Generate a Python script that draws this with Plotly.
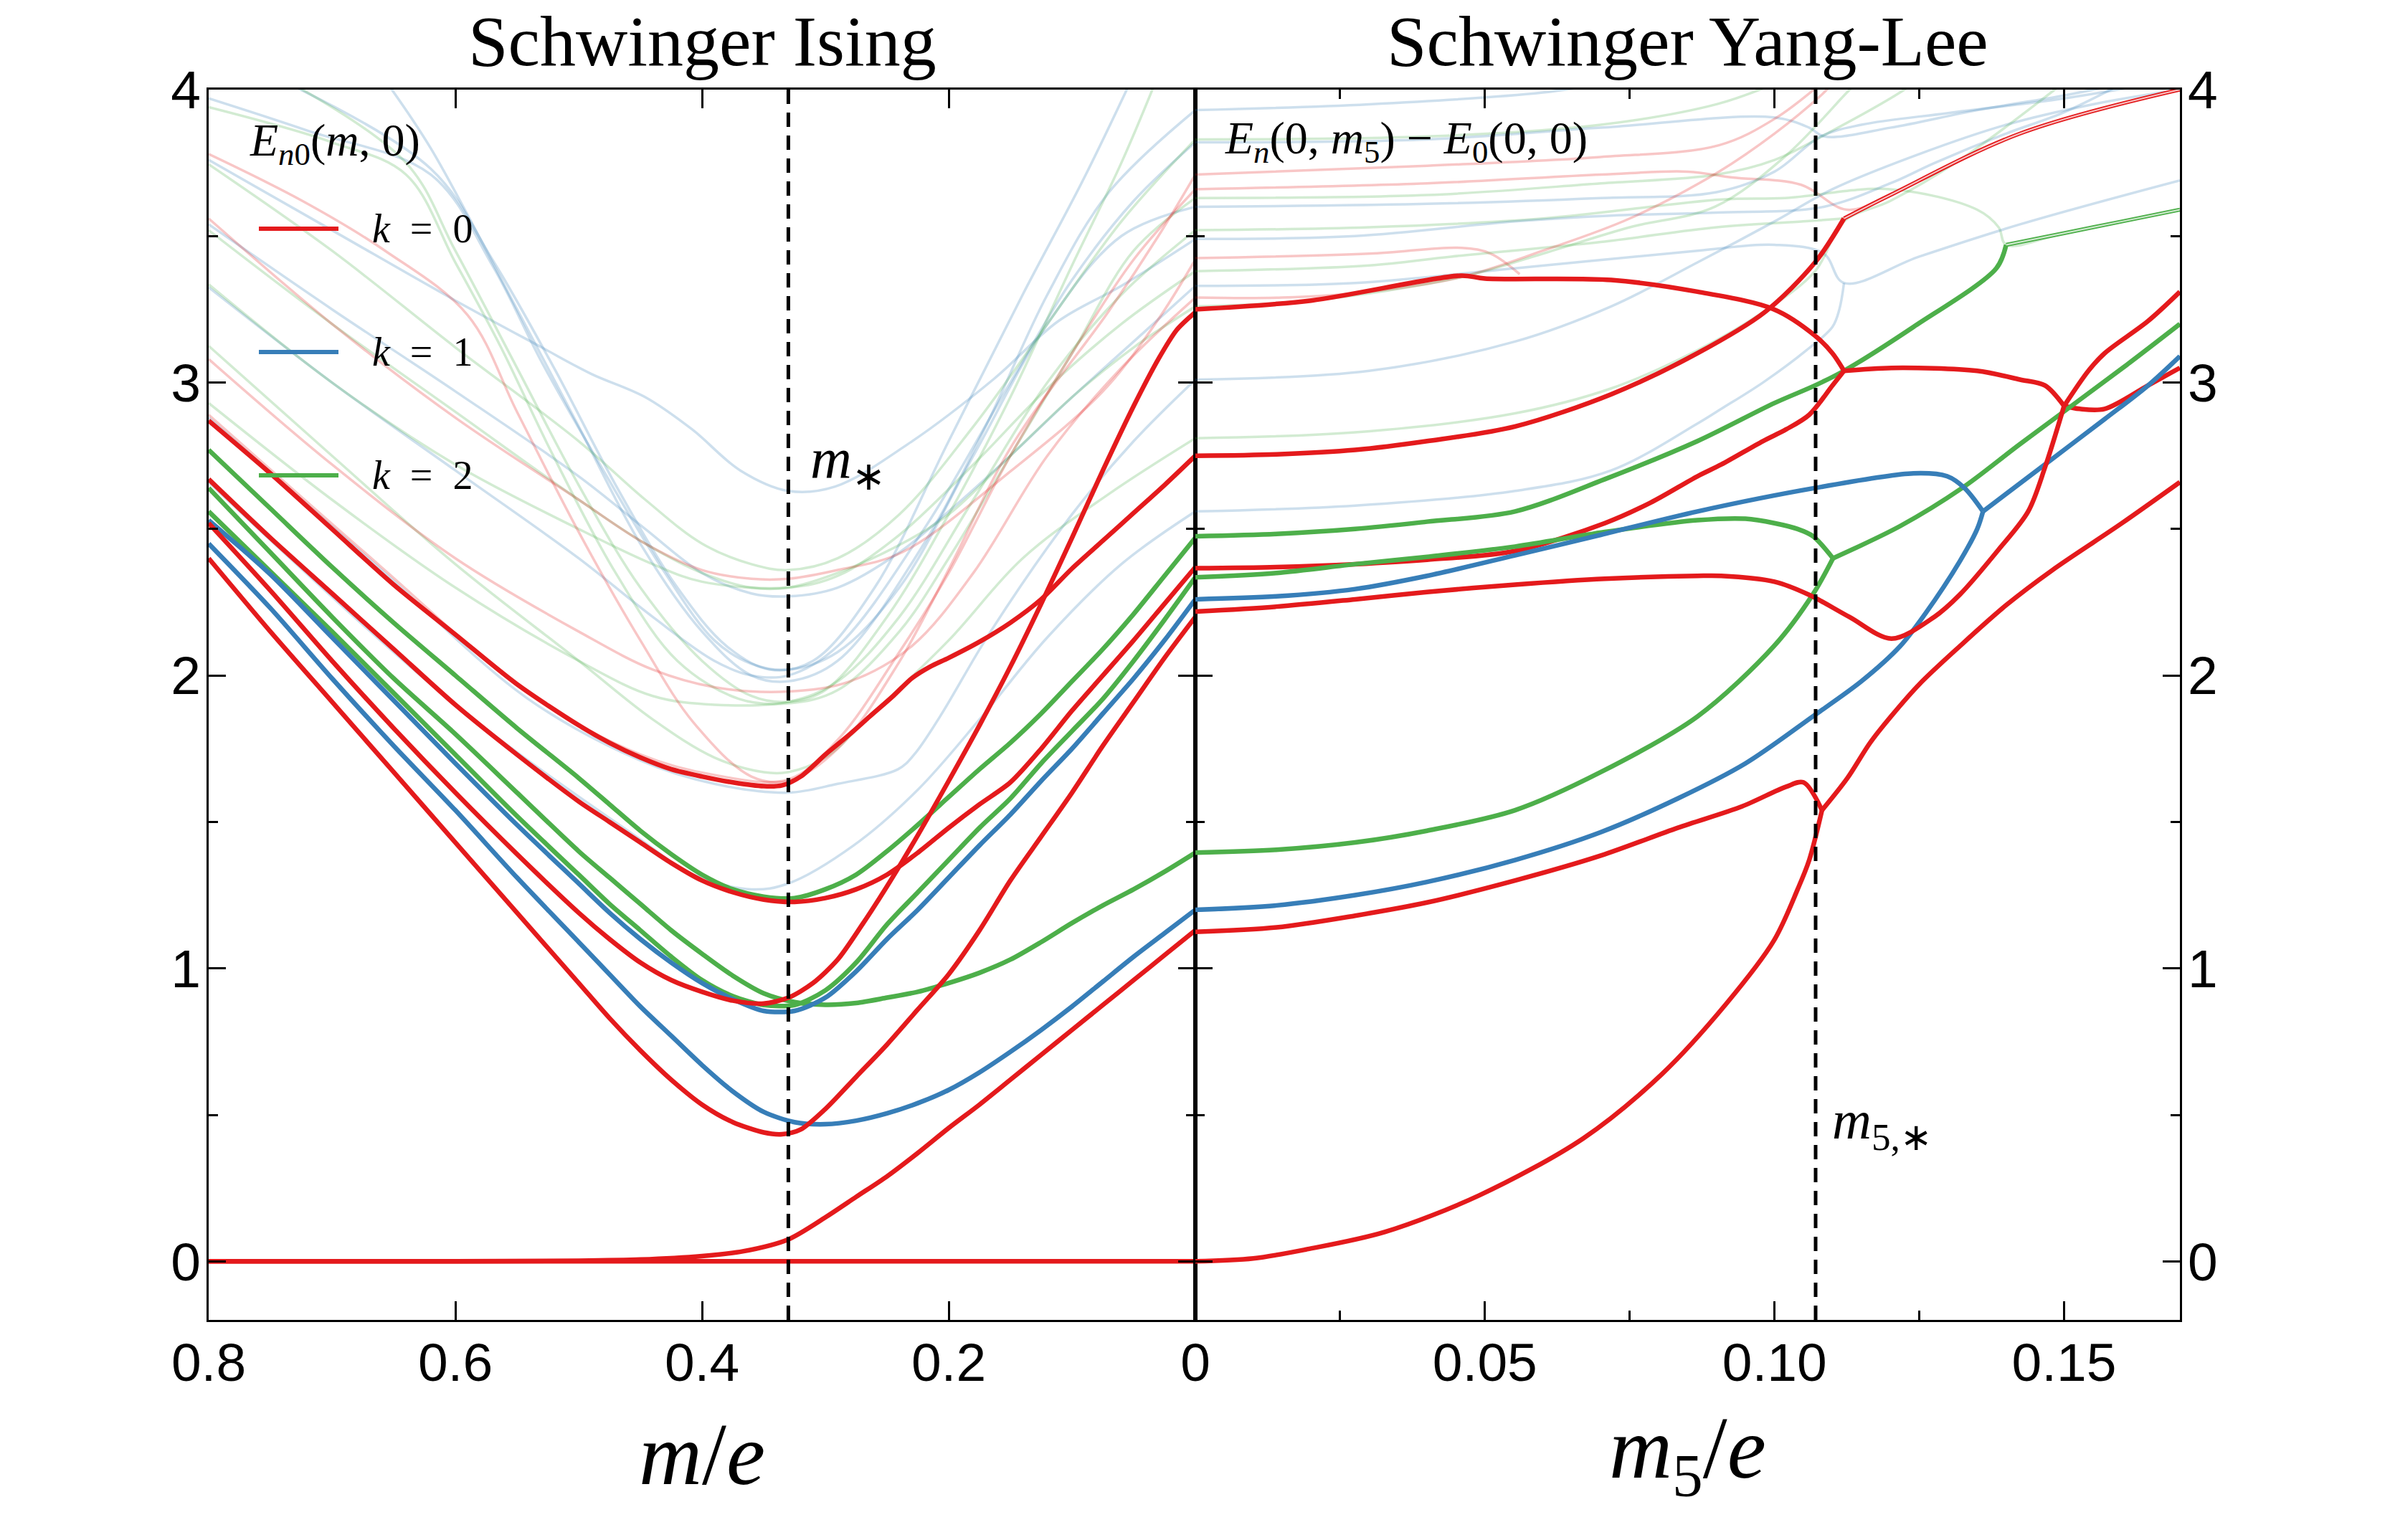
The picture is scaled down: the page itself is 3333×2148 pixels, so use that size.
import plotly.graph_objects as go

# ------------------------------------------------------------------
# DATA
# Left panel: x = m/e (axis reversed, 0.8 -> 0), Right panel: x = m5/e
# ------------------------------------------------------------------
m_star = 0.33
m5_star = 0.1071

# ---- Schwinger Ising: bold levels ----
ising_ground = [(0.8, 0.0), (0.0, 0.0)]
ising_red_rise = [(0.8, 0.0), (0.6, 0.0), (0.5, 0.002), (0.45, 0.006), (0.4, 0.018), (0.367, 0.034),
                  (0.33, 0.075), (0.3, 0.15), (0.275, 0.22), (0.25, 0.29), (0.225, 0.37), (0.2, 0.455),
                  (0.175, 0.535), (0.15, 0.62), (0.125, 0.705), (0.1, 0.79), (0.075, 0.875), (0.05, 0.96),
                  (0.025, 1.045), (0.0, 1.13)]
ising_red_a = [(0.8, 2.40), (0.75, 2.15), (0.7, 1.91), (0.65, 1.67), (0.6, 1.43), (0.55, 1.19), (0.5, 0.95),
               (0.475, 0.83), (0.45, 0.72), (0.425, 0.62), (0.4, 0.535), (0.375, 0.475), (0.35, 0.44),
               (0.335, 0.434), (0.32, 0.45), (0.3, 0.52), (0.275, 0.63), (0.25, 0.74), (0.225, 0.86),
               (0.2, 0.98), (0.175, 1.13), (0.15, 1.30), (0.125, 1.45), (0.1, 1.60), (0.075, 1.76),
               (0.05, 1.91), (0.025, 2.06), (0.0, 2.20)]
ising_blue_a = [(0.8, 2.45), (0.75, 2.23), (0.7, 1.99), (0.65, 1.76), (0.6, 1.54), (0.55, 1.31), (0.5, 1.09),
                (0.475, 0.98), (0.45, 0.87), (0.425, 0.77), (0.4, 0.67), (0.375, 0.58), (0.35, 0.51),
                (0.325, 0.475), (0.3, 0.468), (0.275, 0.48), (0.25, 0.505), (0.225, 0.54), (0.2, 0.585),
                (0.175, 0.645), (0.15, 0.715), (0.125, 0.79), (0.1, 0.87), (0.075, 0.955), (0.05, 1.04),
                (0.025, 1.12), (0.0, 1.20)]
ising_red_b = [(0.8, 2.52), (0.75, 2.29), (0.7, 2.05), (0.65, 1.82), (0.6, 1.60), (0.55, 1.39), (0.5, 1.19),
               (0.475, 1.10), (0.45, 1.02), (0.425, 0.96), (0.4, 0.92), (0.375, 0.89), (0.35, 0.88),
               (0.33, 0.90), (0.31, 0.95), (0.29, 1.03), (0.27, 1.15), (0.25, 1.28), (0.225, 1.455),
               (0.2, 1.64), (0.175, 1.83), (0.15, 2.03), (0.125, 2.245), (0.1, 2.47), (0.075, 2.70),
               (0.05, 2.92), (0.03, 3.08), (0.015, 3.18), (0.0, 3.24)]
ising_blue_b = [(0.8, 2.53), (0.75, 2.345), (0.7, 2.13), (0.65, 1.915), (0.6, 1.70), (0.55, 1.49), (0.5, 1.29),
                (0.475, 1.19), (0.45, 1.10), (0.425, 1.02), (0.4, 0.95), (0.375, 0.895), (0.35, 0.855),
                (0.325, 0.855), (0.3, 0.90), (0.275, 0.99), (0.25, 1.10), (0.225, 1.20), (0.2, 1.31),
                (0.175, 1.42), (0.15, 1.525), (0.125, 1.64), (0.1, 1.75), (0.075, 1.87), (0.05, 1.99),
                (0.025, 2.12), (0.0, 2.26)]
ising_green_lo = [(0.8, 2.64), (0.75, 2.42), (0.7, 2.20), (0.65, 1.99), (0.6, 1.80), (0.55, 1.60), (0.5, 1.40),
                  (0.475, 1.31), (0.45, 1.22), (0.425, 1.13), (0.4, 1.05), (0.375, 0.975), (0.35, 0.915),
                  (0.325, 0.885), (0.3, 0.876), (0.275, 0.882), (0.25, 0.90), (0.225, 0.92), (0.2, 0.95),
                  (0.175, 0.985), (0.15, 1.03), (0.125, 1.09), (0.1, 1.155), (0.075, 1.215), (0.05, 1.27),
                  (0.025, 1.33), (0.0, 1.395)]
ising_green_mid = [(0.8, 2.56), (0.75, 2.355), (0.7, 2.15), (0.65, 1.94), (0.6, 1.73), (0.55, 1.52), (0.5, 1.32),
                   (0.475, 1.22), (0.45, 1.13), (0.425, 1.04), (0.4, 0.96), (0.375, 0.905), (0.35, 0.875),
                   (0.325, 0.875), (0.3, 0.925), (0.275, 1.02), (0.25, 1.15), (0.225, 1.26), (0.2, 1.37),
                   (0.175, 1.48), (0.15, 1.58), (0.125, 1.70), (0.1, 1.81), (0.075, 1.92), (0.05, 2.05),
                   (0.025, 2.19), (0.0, 2.335)]
ising_red_c = [(0.8, 2.67), (0.75, 2.47), (0.7, 2.28), (0.65, 2.09), (0.6, 1.90), (0.55, 1.73), (0.5, 1.57),
               (0.475, 1.50), (0.45, 1.43), (0.425, 1.36), (0.4, 1.30), (0.375, 1.26), (0.35, 1.235),
               (0.325, 1.227), (0.3, 1.24), (0.275, 1.27), (0.25, 1.32), (0.225, 1.395), (0.2, 1.48),
               (0.175, 1.56), (0.15, 1.635), (0.125, 1.75), (0.1, 1.88), (0.075, 2.00), (0.05, 2.12),
               (0.025, 2.245), (0.0, 2.37)]
ising_green_c = [(0.8, 2.77), (0.75, 2.57), (0.7, 2.37), (0.65, 2.18), (0.6, 2.0), (0.55, 1.82), (0.5, 1.65),
                 (0.475, 1.56), (0.45, 1.47), (0.425, 1.39), (0.4, 1.32), (0.375, 1.27), (0.35, 1.245),
                 (0.325, 1.24), (0.3, 1.27), (0.275, 1.32), (0.25, 1.40), (0.225, 1.49), (0.2, 1.585),
                 (0.175, 1.68), (0.15, 1.77), (0.125, 1.87), (0.1, 1.98), (0.075, 2.09), (0.05, 2.21),
                 (0.025, 2.34), (0.0, 2.47)]
ising_red_d = [(0.8, 2.87), (0.75, 2.69), (0.7, 2.50), (0.65, 2.31), (0.6, 2.14), (0.55, 1.97), (0.5, 1.83),
               (0.475, 1.77), (0.45, 1.72), (0.425, 1.68), (0.4, 1.655), (0.375, 1.635), (0.35, 1.622),
               (0.335, 1.625), (0.32, 1.655), (0.3, 1.73), (0.28, 1.80), (0.264, 1.86), (0.245, 1.93),
               (0.23, 1.99), (0.215, 2.03), (0.2, 2.06), (0.175, 2.115), (0.15, 2.18), (0.125, 2.26),
               (0.1, 2.365), (0.075, 2.46), (0.05, 2.555), (0.025, 2.65), (0.0, 2.75)]

# ---- Schwinger Ising: faded (higher) levels ----
ising_fb1 = [(0.8, 3.76), (0.7, 3.52), (0.6, 3.28), (0.53, 3.12), (0.49, 3.03), (0.446, 2.95), (0.408, 2.84),
             (0.369, 2.70), (0.33, 2.63), (0.292, 2.645), (0.233, 2.79), (0.164, 3.01), (0.111, 3.21),
             (0.06, 3.33), (0.0, 3.49)]
ising_fb2 = [(0.8, 3.54), (0.7, 3.25), (0.6, 2.97), (0.5, 2.68), (0.446, 2.50), (0.40, 2.35), (0.36, 2.28),
             (0.33, 2.27), (0.29, 2.30), (0.24, 2.42), (0.2, 2.56), (0.15, 2.75), (0.1, 2.95), (0.05, 3.14),
             (0.0, 3.33)]
ising_fb3 = [(0.8, 3.97), (0.72, 3.86), (0.62, 3.71), (0.57, 3.40), (0.53, 3.07), (0.48, 2.70), (0.43, 2.35),
             (0.39, 2.12), (0.36, 2.04), (0.33, 2.02), (0.29, 2.08), (0.24, 2.3), (0.18, 2.75), (0.12, 3.2),
             (0.06, 3.5), (0.0, 3.60)]
ising_fb4 = [(0.8, 3.325), (0.7, 3.0), (0.6, 2.7), (0.5, 2.4), (0.44, 2.2), (0.39, 2.05), (0.36, 2.0),
             (0.33, 2.0), (0.29, 2.1), (0.22, 2.5), (0.15, 3.0), (0.1, 3.35), (0.05, 3.62), (0.0, 3.82)]
ising_fb5 = [(0.66, 4.05), (0.62, 3.8), (0.55, 3.25), (0.5, 2.85), (0.45, 2.45), (0.40, 2.15), (0.36, 2.0),
             (0.33, 1.98), (0.29, 2.05), (0.22, 2.45), (0.17, 2.85), (0.12, 3.3), (0.07, 3.65), (0.0, 3.93)]
ising_fb6 = [(0.8, 2.88), (0.66, 2.36), (0.541, 1.92), (0.45, 1.71), (0.39, 1.63), (0.33, 1.60), (0.29, 1.63),
             (0.241, 1.68), (0.228, 1.73), (0.207, 1.86), (0.166, 2.15), (0.1, 2.55), (0.05, 2.8), (0.0, 3.01)]
ising_fb7 = [(0.8, 2.66), (0.6, 1.90), (0.45, 1.44), (0.407, 1.32), (0.36, 1.27), (0.33, 1.29), (0.277, 1.42),
             (0.225, 1.61), (0.173, 1.86), (0.12, 2.13), (0.06, 2.38), (0.0, 2.56)]
ising_fb8 = [(0.75, 4.05), (0.62, 3.73), (0.57, 3.42), (0.52, 3.05), (0.47, 2.65), (0.42, 2.3), (0.38, 2.1),
             (0.345, 2.02), (0.31, 2.05), (0.26, 2.3), (0.2, 2.8), (0.14, 3.3), (0.09, 3.7), (0.05, 4.05)]
ising_fg1 = [(0.8, 3.94), (0.7, 3.82), (0.64, 3.71), (0.6, 3.41), (0.563, 3.12), (0.523, 2.77), (0.47, 2.35),
             (0.42, 2.05), (0.37, 1.92), (0.33, 1.905), (0.29, 1.95), (0.24, 2.15), (0.2, 2.4), (0.15, 2.75),
             (0.1, 3.1), (0.05, 3.45), (0.0, 3.63)]
ising_fg2 = [(0.8, 3.745), (0.7, 3.45), (0.6, 3.12), (0.5, 2.80), (0.446, 2.6), (0.4, 2.45), (0.36, 2.38),
             (0.33, 2.36), (0.29, 2.40), (0.24, 2.55), (0.18, 2.85), (0.12, 3.2), (0.06, 3.55), (0.0, 3.83)]
ising_fg3 = [(0.8, 3.52), (0.7, 3.2), (0.6, 2.9), (0.5, 2.6), (0.446, 2.45), (0.4, 2.35), (0.36, 2.30),
             (0.33, 2.30), (0.29, 2.35), (0.238, 2.45), (0.2, 2.55), (0.15, 2.75), (0.1, 2.95), (0.05, 3.12),
             (0.0, 3.26)]
ising_fg4 = [(0.8, 3.125), (0.7, 2.75), (0.6, 2.38), (0.5, 2.05), (0.44, 1.85), (0.39, 1.72), (0.35, 1.67),
             (0.33, 1.67), (0.30, 1.72), (0.264, 1.86), (0.2, 2.12), (0.14, 2.4), (0.07, 2.62), (0.0, 2.81)]
ising_fg5 = [(0.8, 3.335), (0.7, 3.0), (0.6, 2.72), (0.5, 2.5), (0.44, 2.38), (0.4, 2.32), (0.33, 2.30),
             (0.29, 2.34), (0.24, 2.48), (0.18, 2.72), (0.12, 2.98), (0.06, 3.2), (0.0, 3.38)]
ising_fg6 = [(0.8, 2.93), (0.7, 2.6), (0.6, 2.3), (0.5, 2.05), (0.44, 1.93), (0.39, 1.9), (0.33, 1.91),
             (0.29, 1.98), (0.24, 2.2), (0.18, 2.6), (0.12, 3.0), (0.06, 3.3), (0.0, 3.52)]
ising_fg7 = [(0.745, 4.05), (0.64, 3.75), (0.6, 3.45), (0.55, 3.05), (0.5, 2.65), (0.45, 2.3), (0.4, 2.05),
             (0.36, 1.93), (0.33, 1.91), (0.3, 1.95), (0.25, 2.2), (0.2, 2.55), (0.15, 2.95), (0.1, 3.4),
             (0.06, 3.75), (0.03, 4.05)]
ising_fr1 = [(0.8, 3.78), (0.724, 3.62), (0.657, 3.45), (0.59, 3.23), (0.55, 2.90), (0.50, 2.49), (0.45, 2.12),
             (0.407, 1.84), (0.36, 1.655), (0.33, 1.64), (0.29, 1.75), (0.241, 2.04), (0.199, 2.37),
             (0.148, 2.79), (0.07, 3.245), (0.03, 3.50), (0.0, 3.71)]
ising_fr2 = [(0.8, 3.56), (0.7, 3.2), (0.6, 2.88), (0.5, 2.6), (0.446, 2.45), (0.4, 2.36), (0.36, 2.33),
             (0.33, 2.33), (0.29, 2.36), (0.238, 2.42), (0.149, 2.70), (0.075, 2.97), (0.031, 3.21), (0.0, 3.42)]
ising_fr3 = [(0.8, 3.08), (0.7, 2.72), (0.6, 2.4), (0.5, 2.15), (0.44, 2.02), (0.39, 1.96), (0.33, 1.945),
             (0.28, 1.98), (0.23, 2.1), (0.18, 2.35), (0.12, 2.75), (0.06, 3.05), (0.0, 3.29)]
ising_fr4 = [(0.8, 2.89), (0.66, 2.37), (0.541, 1.94), (0.45, 1.73), (0.39, 1.66), (0.33, 1.645), (0.29, 1.78),
             (0.24, 2.08), (0.2, 2.35), (0.15, 2.75), (0.1, 3.1), (0.05, 3.42), (0.0, 3.66)]

# ---- Schwinger Yang-Lee: bold levels ----
yl_red_lo = [(0.0, 0.0), (0.01, 0.01), (0.019, 0.04), (0.0327, 0.10), (0.049, 0.225), (0.067, 0.42),
             (0.0806, 0.64), (0.0917, 0.88), (0.0999, 1.095), (0.104, 1.27), (0.106, 1.37), (0.1082, 1.54)]
yl_red_1 = [(0.0, 1.125), (0.014, 1.14), (0.0276, 1.18), (0.04, 1.225), (0.0552, 1.30), (0.07, 1.385),
            (0.0833, 1.48), (0.0944, 1.553), (0.102, 1.62), (0.105, 1.635), (0.1082, 1.54)]
yl_red_merged = [(0.1082, 1.54), (0.1126, 1.65), (0.1165, 1.77), (0.1201, 1.86), (0.125, 1.97), (0.132, 2.10),
                 (0.14, 2.24), (0.148, 2.36), (0.16, 2.52), (0.17, 2.66)]
yl_blue_1 = [(0.0, 1.20), (0.014, 1.215), (0.0276, 1.25), (0.04, 1.295), (0.0552, 1.37), (0.07, 1.465),
             (0.0833, 1.58), (0.095, 1.70), (0.1066, 1.86), (0.115, 1.98), (0.1217, 2.10), (0.126, 2.21),
             (0.132, 2.39), (0.135, 2.50), (0.136, 2.56)]
yl_blue_2 = [(0.0, 2.26), (0.014, 2.27), (0.0276, 2.295), (0.04, 2.34), (0.0552, 2.41), (0.07, 2.48),
             (0.0867, 2.56), (0.107, 2.64), (0.124, 2.69), (0.1298, 2.68), (0.1328, 2.64), (0.136, 2.56)]
yl_blue_merged = [(0.136, 2.56), (0.148, 2.74), (0.157, 2.875), (0.1645, 2.99), (0.17, 3.09)]
yl_green_1 = [(0.0, 1.395), (0.014, 1.405), (0.0276, 1.43), (0.04, 1.47), (0.0552, 1.54), (0.07, 1.67),
              (0.0867, 1.86), (0.0999, 2.10), (0.1066, 2.276), (0.1101, 2.40)]
yl_green_2 = [(0.0, 2.335), (0.014, 2.35), (0.0276, 2.38), (0.04, 2.405), (0.0552, 2.44), (0.0707, 2.49),
              (0.0867, 2.53), (0.095, 2.535), (0.1, 2.52), (0.104, 2.50), (0.1066, 2.476), (0.1101, 2.40)]
yl_green_merged = [(0.1101, 2.40), (0.1217, 2.51), (0.1324, 2.64), (0.1424, 2.79), (0.1608, 3.06), (0.17, 3.20)]
yl_green_3 = [(0.0, 2.475), (0.014, 2.483), (0.0276, 2.50), (0.04, 2.525), (0.0552, 2.56), (0.0707, 2.67),
              (0.0867, 2.80), (0.1, 2.93), (0.107, 2.99), (0.112, 3.04), (0.124, 3.19), (0.1383, 3.39),
              (0.140, 3.47)]
yl_green_3_pair = [(0.140, 3.47), (0.15, 3.51), (0.16, 3.55), (0.17, 3.59)]
yl_red_2 = [(0.0, 2.218), (0.014, 2.235), (0.0276, 2.26), (0.04, 2.285), (0.0552, 2.31), (0.0707, 2.33),
            (0.0867, 2.34), (0.0908, 2.34), (0.1, 2.32), (0.106, 2.275), (0.1129, 2.20), (0.1202, 2.126),
            (0.1276, 2.20), (0.132, 2.276), (0.1387, 2.43), (0.1438, 2.56), (0.1467, 2.71), (0.150, 2.92)]
yl_red_upper_branch = [(0.150, 2.92), (0.1542, 3.04), (0.157, 3.10), (0.1645, 3.21), (0.17, 3.31)]
yl_red_237 = [(0.0, 2.366), (0.014, 2.37), (0.0276, 2.38), (0.04, 2.395), (0.0552, 2.425), (0.0707, 2.52),
              (0.0786, 2.59), (0.0867, 2.68), (0.0908, 2.72), (0.098, 2.80), (0.102, 2.84), (0.106, 2.89),
              (0.110, 2.99), (0.112, 3.04)]
yl_red_top = [(0.0, 3.25), (0.02, 3.28), (0.0459, 3.365), (0.05, 3.355), (0.0718, 3.35), (0.0867, 3.31),
              (0.0999, 3.25), (0.107, 3.16), (0.110, 3.10), (0.112, 3.04)]
yl_red_plateau = [(0.112, 3.04), (0.1202, 3.05), (0.135, 3.04), (0.1424, 3.01), (0.1467, 2.99), (0.150, 2.92)]
yl_red_lower_branch = [(0.150, 2.92), (0.1527, 2.91), (0.157, 2.91), (0.1645, 2.99), (0.17, 3.05)]
yl_red_275 = [(0.0, 2.75), (0.014, 2.755), (0.0276, 2.77), (0.04, 2.80), (0.0552, 2.85), (0.0718, 2.96),
              (0.0867, 3.10), (0.0983, 3.24), (0.107, 3.41), (0.112, 3.56)]
yl_red_275_pair = [(0.112, 3.56), (0.120, 3.64), (0.1424, 3.85), (0.17, 4.0)]

# ---- Schwinger Yang-Lee: faded levels ----
yl_fb1 = [(0.0, 3.93), (0.03, 3.95), (0.06, 3.99), (0.07, 4.02)]
yl_fg1 = [(0.0, 3.83), (0.04, 3.84), (0.07, 3.88), (0.09, 3.95), (0.1, 4.02)]
yl_fb2 = [(0.0, 3.82), (0.04, 3.83), (0.07, 3.87), (0.0999, 3.905), (0.106, 3.87), (0.1086, 3.84), (0.12, 3.87),
          (0.135, 3.93), (0.15, 3.98), (0.16, 4.02)]
yl_fr1 = [(0.0, 3.71), (0.04, 3.74), (0.07, 3.77), (0.0904, 3.81), (0.1, 3.90), (0.108, 4.02)]
yl_fr2 = [(0.0, 3.66), (0.04, 3.68), (0.07, 3.71), (0.085, 3.72), (0.0927, 3.70), (0.1046, 3.675),
          (0.1125, 3.59), (0.12, 3.64), (0.1424, 3.85), (0.17, 4.0)]
yl_fg2 = [(0.0, 3.63), (0.04, 3.64), (0.07, 3.68), (0.09, 3.71), (0.1, 3.76), (0.11, 3.86), (0.12, 3.97),
          (0.124, 4.02)]
yl_fb3 = [(0.0, 3.60), (0.04, 3.61), (0.07, 3.63), (0.09, 3.65), (0.1, 3.72), (0.108, 3.84), (0.115, 3.88),
          (0.13, 3.92), (0.15, 3.97), (0.165, 4.02)]
yl_fg3 = [(0.0, 3.52), (0.03, 3.53), (0.06, 3.56), (0.0908, 3.625), (0.1018, 3.63), (0.12, 3.66), (0.135, 3.59),
          (0.1387, 3.53), (0.140, 3.47), (0.15, 3.51), (0.16, 3.55), (0.17, 3.59)]
yl_fb4 = [(0.0, 3.49), (0.0276, 3.50), (0.0552, 3.55), (0.0718, 3.57), (0.09, 3.58), (0.1085, 3.60),
          (0.12, 3.68), (0.1277, 3.75), (0.14, 3.85), (0.1497, 3.92), (0.16, 4.02)]
yl_fr3 = [(0.0, 3.425), (0.03, 3.44), (0.046, 3.46), (0.051, 3.44), (0.056, 3.37)]
yl_fg4 = [(0.0, 3.38), (0.03, 3.40), (0.0442, 3.43), (0.07, 3.48), (0.09, 3.53), (0.105, 3.55), (0.112, 3.56)]
yl_fb5 = [(0.0, 3.33), (0.0276, 3.34), (0.0552, 3.39), (0.0867, 3.45), (0.1, 3.47), (0.1085, 3.44),
          (0.112, 3.34), (0.125, 3.43), (0.1424, 3.54), (0.17, 3.69)]
yl_fr4 = [(0.0, 3.29), (0.015, 3.29), (0.03, 3.31), (0.0459, 3.36), (0.06, 3.45), (0.075, 3.56), (0.0904, 3.72),
          (0.1, 3.85), (0.108, 3.98), (0.11, 4.02)]
yl_fg5 = [(0.0, 3.26), (0.02, 3.28), (0.0459, 3.36), (0.06, 3.44), (0.075, 3.53), (0.0897, 3.60),
          (0.102, 3.775), (0.1125, 3.99), (0.114, 4.02)]
yl_fb6 = [(0.0, 3.01), (0.03, 3.04), (0.0552, 3.14), (0.0718, 3.26), (0.0867, 3.41), (0.1, 3.55), (0.11, 3.66),
          (0.125, 3.78), (0.14, 3.88), (0.155, 3.95), (0.17, 4.0)]
yl_fg6 = [(0.0, 2.81), (0.0276, 2.83), (0.0552, 2.895), (0.0718, 2.98), (0.0867, 3.11), (0.098, 3.24),
          (0.107, 3.38), (0.112, 3.55), (0.12, 3.62), (0.132, 3.76), (0.1497, 4.02)]
yl_fb7 = [(0.0, 2.56), (0.0276, 2.58), (0.0552, 2.63), (0.0718, 2.70), (0.0867, 2.86), (0.0908, 2.91),
          (0.098, 3.0), (0.1055, 3.11), (0.110, 3.19), (0.1112, 3.25), (0.112, 3.34)]

# tick labels
left_xticks = [0.8, 0.6, 0.4, 0.2, 0.0]
left_xticklabels = ["0.8", "0.6", "0.4", "0.2", " "]
right_xticks = [0.0, 0.05, 0.10, 0.15]
right_xticklabels = ["0", "0.05", "0.10", "0.15"]
right_xminor = [0.025, 0.075, 0.125]
yticks = [0, 1, 2, 3, 4]
yticklabels = ["0", "1", "2", "3", "4"]
yminor = [0.5, 1.5, 2.5, 3.5]

# ------------------------------------------------------------------
RED, BLUE, GREEN = "#e41a1c", "#377eb8", "#4daf4a"
FADED = {RED: "rgba(228,26,28,0.25)", BLUE: "rgba(55,126,184,0.25)", GREEN: "rgba(77,175,74,0.25)"}

ising_faded = [(ising_fb1, BLUE), (ising_fb2, BLUE), (ising_fb3, BLUE), (ising_fb4, BLUE), (ising_fb5, BLUE),
               (ising_fb6, BLUE), (ising_fb7, BLUE), (ising_fb8, BLUE),
               (ising_fg1, GREEN), (ising_fg2, GREEN), (ising_fg3, GREEN), (ising_fg4, GREEN),
               (ising_fg5, GREEN), (ising_fg6, GREEN), (ising_fg7, GREEN),
               (ising_fr1, RED), (ising_fr2, RED), (ising_fr3, RED), (ising_fr4, RED)]
ising_bold = [(ising_ground, RED), (ising_red_rise, RED), (ising_red_d, RED), (ising_green_c, GREEN),
              (ising_red_c, RED), (ising_green_lo, GREEN), (ising_green_mid, GREEN), (ising_blue_b, BLUE),
              (ising_red_b, RED), (ising_blue_a, BLUE), (ising_red_a, RED)]
yl_faded = [(yl_fb1, BLUE), (yl_fg1, GREEN), (yl_fb2, BLUE), (yl_fr1, RED), (yl_fr2, RED), (yl_fg2, GREEN),
            (yl_fb3, BLUE), (yl_fg3, GREEN), (yl_fb4, BLUE), (yl_fr3, RED), (yl_fg4, GREEN), (yl_fb5, BLUE),
            (yl_fr4, RED), (yl_fg5, GREEN), (yl_fb6, BLUE), (yl_fg6, GREEN), (yl_fb7, BLUE)]
yl_bold = [(yl_green_3, GREEN), (yl_red_top, RED), (yl_red_275, RED), (yl_red_plateau, RED),
           (yl_red_lower_branch, RED), (yl_red_upper_branch, RED), (yl_red_237, RED),
           (yl_green_2, GREEN), (yl_green_1, GREEN), (yl_green_merged, GREEN),
           (yl_blue_2, BLUE), (yl_blue_1, BLUE), (yl_blue_merged, BLUE), (yl_red_2, RED),
           (yl_red_1, RED), (yl_red_lo, RED), (yl_red_merged, RED)]
yl_thin_pairs = [(yl_green_3_pair, GREEN), (yl_red_275_pair, RED)]

fig = go.Figure()


def add(curve, color, width, axis, smoothing=1.0):
    fig.add_trace(go.Scatter(
        x=[p[0] for p in curve], y=[p[1] for p in curve], mode="lines",
        line=dict(color=color, width=width, shape="spline", smoothing=smoothing),
        xaxis="x" if axis == 1 else "x2", yaxis="y" if axis == 1 else "y2",
        showlegend=False, hoverinfo="skip"))


for c, col in ising_faded:
    add(c, FADED[col], 3.5, 1)
for c, col in yl_faded:
    add(c, FADED[col], 3.5, 2)
for c, col in ising_bold:
    add(c, col, 6.5, 1, 0.8)
for c, col in yl_bold:
    add(c, col, 6.5, 2, 0.9)
for c, col in yl_thin_pairs:
    add(c, col, 5.5, 2)
    add(c, "rgba(255,255,255,0.75)", 2, 2)

# ------------------------------------------------------------------
W, H = 3333, 2148
ML, MR, MT, MB = 291, 293, 125, 307
PW, PH = W - ML - MR, H - MT - MB
split = (1667 - ML) / PW


def px(X):
    return (X - ML) / PW


def py(Y):
    return (H - MB - Y) / PH


tickfont = dict(family="Liberation Sans, Arial, sans-serif", size=75, color="black")
common = dict(showline=True, linecolor="black", linewidth=3, mirror="ticks", ticks="inside",
              tickcolor="black", tickwidth=3, showgrid=False, zeroline=False, tickfont=tickfont,
              tickmode="array")
minor_y = dict(tickmode="array", tickvals=yminor, ticks="inside", ticklen=13, tickwidth=3, tickcolor="black",
               showgrid=False)

fig.update_layout(
    width=W, height=H, paper_bgcolor="white", plot_bgcolor="white",
    margin=dict(l=ML, r=MR, t=MT, b=MB),
    xaxis=dict(domain=[0, split], range=[0.8, 0.0], tickvals=left_xticks, ticktext=left_xticklabels,
               ticklen=26, anchor="y", ticklabelstandoff=-8, **common),
    xaxis2=dict(domain=[split, 1], range=[0.0, 0.17], tickvals=right_xticks, ticktext=right_xticklabels,
                ticklen=26, anchor="y2", ticklabelstandoff=-8,
                minor=dict(tickmode="array", tickvals=right_xminor, ticks="inside", ticklen=13, tickwidth=3,
                           tickcolor="black", showgrid=False), **common),
    yaxis=dict(domain=[0, 1], range=[-0.2, 4.0], tickvals=yticks, ticktext=yticklabels, ticklen=24,
               anchor="x", side="left", ticklabelstandoff=-7, minor=minor_y, **common),
    yaxis2=dict(domain=[0, 1], range=[-0.2, 4.0], tickvals=yticks, ticktext=yticklabels, ticklen=24,
                anchor="x2", side="right", ticklabelstandoff=-7, minor=minor_y, **common),
)

dash = "20px,12px"
fig.add_shape(type="line", xref="x", yref="paper", x0=m_star, x1=m_star, y0=0, y1=1,
              line=dict(color="black", width=5, dash=dash), layer="above")
fig.add_shape(type="line", xref="x2", yref="paper", x0=m5_star, x1=m5_star, y0=0, y1=1,
              line=dict(color="black", width=5, dash=dash), layer="above")

serif = "Liberation Serif, Times New Roman, serif"

# legend (drawn by hand)
legend_items = [("<i>k</i>\u2002=\u20020", RED, 319), ("<i>k</i>\u2002=\u20021", BLUE, 491),
                ("<i>k</i>\u2002=\u20022", GREEN, 663)]
for label, col, Y in legend_items:
    fig.add_shape(type="line", xref="paper", yref="paper", x0=px(361), x1=px(472), y0=py(Y), y1=py(Y),
                  line=dict(color=col, width=6))
    fig.add_annotation(xref="paper", yref="paper", x=px(517), y=py(Y), xanchor="left", yanchor="middle",
                       text=label, showarrow=False, font=dict(family=serif, size=56, color="black"))

annots = [
    ("<i>E</i><sub><i>n</i>0</sub>(<i>m</i>, 0)", 346, 200, "left", "middle", 64),
    ("<i>E</i><sub><i>n</i></sub>(0, <i>m</i><sub>5</sub>) \u2212 <i>E</i><sub>0</sub>(0, 0)", 1706, 197,
     "left", "middle", 64),
    ("<i>m</i><sub>\u2217</sub>", 1128, 645, "left", "middle", 80),
    ("<i>m</i><sub>5,\u2217</sub>", 2553, 1568, "left", "middle", 76),
    ("Schwinger Ising", 979, 0, "center", "top", 100),
    ("Schwinger Yang-Lee", 2353, 0, "center", "top", 100),
    ("<i>m</i>/<i>e</i>", 979, 2028, "center", "middle", 122),
    ("<i>m</i><sub>5</sub>/<i>e</i>", 2353, 2028, "center", "middle", 122),
]
for text, X, Y, anchor, vanchor, size in annots:
    fig.add_annotation(xref="paper", yref="paper", x=px(X), y=py(Y), xanchor=anchor, yanchor=vanchor,
                       text=text, showarrow=False, font=dict(family=serif, size=size, color="black"))

fig.write_html("out.html")
